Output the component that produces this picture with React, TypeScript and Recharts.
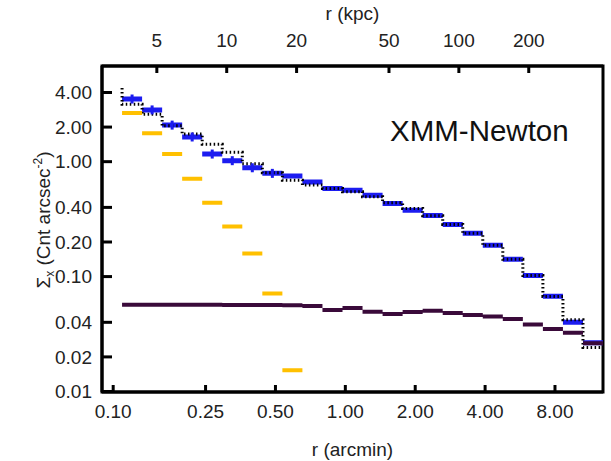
import React from 'react';
import { ComposedChart, Line, Scatter, XAxis, YAxis, ReferenceArea } from 'recharts';

// radial bins (arcmin), log spaced
const binEdges = [
  0.1092, 0.1332, 0.1625, 0.1982, 0.2418, 0.295, 0.3599, 0.439, 0.5356, 0.6533,
  0.797, 0.9723, 1.186, 1.447, 1.765, 2.153, 2.627, 3.204, 3.909, 4.768, 5.817,
  7.096, 8.657, 10.56, 12.88,
];

// surface brightness per bin
const xmmProfile = [
  3.51, 2.82, 2.08, 1.64, 1.165, 1.02, 0.885, 0.791, 0.749, 0.664, 0.585, 0.565,
  0.511, 0.433, 0.378, 0.34, 0.284, 0.2385, 0.1875, 0.1415, 0.102, 0.0673, 0.04, 0.0265,
];
const modelStart = 4.38;
const totalModel = [
  3.16, 2.58, 2.05, 1.74, 1.415, 1.205, 0.96, 0.8, 0.69, 0.625, 0.585, 0.547,
  0.494, 0.44, 0.392, 0.338, 0.284, 0.238, 0.1875, 0.1415, 0.102, 0.067, 0.0422, 0.0242,
];
const coreModel = [2.65, 1.765, 1.165, 0.709, 0.44, 0.273, 0.1587, 0.0711, 0.01534];
const bkgModel = [
  0.057, 0.057, 0.0568, 0.0568, 0.0568, 0.0566, 0.0566, 0.0565, 0.0564, 0.0554, 0.0511, 0.0532,
  0.0495, 0.0472, 0.0491, 0.0505, 0.0482, 0.0463, 0.0449, 0.0427, 0.0382, 0.0349, 0.0325, 0.0263,
];
const markedBins = 8;

const xTicks = [0.1, 0.25, 0.5, 1, 2, 4, 8];
const kpcTicks = [5, 10, 20, 50, 100, 200];
const yTicks = [0.01, 0.02, 0.04, 0.1, 0.2, 0.4, 1, 2, 4];

const xDomain: [number, number] = [0.0895, 12.88];
const kpcPerArcmin = 32.43;
const kpcDomain: [number, number] = [xDomain[0] * kpcPerArcmin, xDomain[1] * kpcPerArcmin];
const yDomain: [number, number] = [0.0099, 6.8];

const FONT = '"Liberation Sans", Arial, Helvetica, sans-serif';

// horizontal segment per bin, broken by nulls
const toSegments = (vals: number[]) =>
  vals.flatMap((v, i) => [
    { x: binEdges[i], y: v },
    { x: binEdges[i + 1], y: v },
    { x: binEdges[i + 1], y: null },
  ]);

const modelSteps = [
  { x: binEdges[0], y: modelStart },
  ...totalModel.map((v, i) => ({ x: binEdges[i], y: v })),
  { x: binEdges[totalModel.length], y: totalModel[totalModel.length - 1] },
];

const xmmCenters = xmmProfile.slice(0, markedBins).map((v, i) => ({
  x: Math.sqrt(binEdges[i] * binEdges[i + 1]),
  y: v,
}));

// invisible helper so the kpc axis gets drawn
const kpcAnchor = kpcDomain.map((x) => ({ x, y: 1 }));

const tickStyle = { fill: '#222', fontSize: 19, fontFamily: FONT };
const axisLine = { stroke: '#000', strokeWidth: 3 };

export default function App() {
  return (
    <div style={{ position: 'absolute', left: 0, top: 0, width: 611, height: 461, background: '#fff' }}>
      <ComposedChart width={611} height={461} margin={{ top: 0, right: 8, bottom: 0, left: 0 }}>
        <XAxis
          dataKey="x"
          type="number"
          scale="log"
          domain={xDomain}
          allowDataOverflow
          ticks={xTicks}
          interval={0}
          tickFormatter={(v: number) => v.toFixed(2)}
          tick={tickStyle}
          tickSize={-7}
          tickMargin={20}
          axisLine={axisLine}
          tickLine={axisLine}
          height={69}
          label={{ value: 'r (arcmin)', position: 'insideBottom', offset: 5, fill: '#222', fontSize: 19, fontFamily: FONT }}
        />
        <XAxis
          xAxisId="top"
          dataKey="x"
          orientation="top"
          type="number"
          scale="log"
          domain={kpcDomain}
          allowDataOverflow
          ticks={kpcTicks}
          interval={0}
          tick={tickStyle}
          tickSize={-7}
          tickMargin={26}
          axisLine={axisLine}
          tickLine={axisLine}
          height={66}
          label={{ value: 'r (kpc)', position: 'insideTop', offset: 7, fill: '#222', fontSize: 19, fontFamily: FONT }}
        />
        <YAxis
          type="number"
          scale="log"
          domain={yDomain}
          allowDataOverflow
          ticks={yTicks}
          interval={0}
          tickFormatter={(v: number) => v.toFixed(2)}
          tick={tickStyle}
          tickSize={-10}
          tickMargin={20}
          axisLine={axisLine}
          tickLine={axisLine}
          width={102}
        />
        <Line
          xAxisId="top"
          data={kpcAnchor}
          dataKey="y"
          stroke="none"
          dot={false}
          activeDot={false}
          legendType="none"
          isAnimationActive={false}
        />
        <Line
          data={toSegments(xmmProfile)}
          dataKey="y"
          stroke="#1c1cf0"
          strokeWidth={5}
          dot={false}
          activeDot={false}
          connectNulls={false}
          isAnimationActive={false}
        />
        <Scatter
          data={xmmCenters}
          dataKey="y"
          fill="#1c1cf0"
          isAnimationActive={false}
          shape={(p: any) => <rect x={p.cx - 1.5} y={p.cy - 4.5} width={3} height={9} fill="#1c1cf0" />}
        />
        <Line
          data={modelSteps}
          dataKey="y"
          type="stepAfter"
          stroke="#000"
          strokeWidth={3}
          strokeDasharray="1.5 2.5"
          dot={false}
          activeDot={false}
          isAnimationActive={false}
        />
        <Line
          data={toSegments(coreModel)}
          dataKey="y"
          stroke="#ffc000"
          strokeWidth={4}
          dot={false}
          activeDot={false}
          connectNulls={false}
          isAnimationActive={false}
        />
        <Line
          data={toSegments(bkgModel)}
          dataKey="y"
          stroke="#3a0a3a"
          strokeWidth={4}
          dot={false}
          activeDot={false}
          connectNulls={false}
          isAnimationActive={false}
        />
        <ReferenceArea
          x1={xDomain[0]}
          x2={xDomain[1]}
          y1={yDomain[0]}
          y2={yDomain[1]}
          fill="none"
          stroke="#000"
          strokeWidth={3}
        />
      </ComposedChart>
      <svg width={611} height={461} style={{ position: 'absolute', left: 0, top: 0, pointerEvents: 'none' }}>
        <text
          transform="translate(50,220) rotate(-90)"
          textAnchor="middle"
          fontSize={19}
          fontFamily={FONT}
          fill="#222"
        >
          Σ<tspan fontSize={12} dy={4}>x</tspan>
          <tspan dy={-4}> (Cnt arcsec</tspan>
          <tspan fontSize={12} dy={-8}>-2</tspan>
          <tspan dy={8}>)</tspan>
        </text>
        <text x={390} y={141} fontSize={29.5} fontFamily={FONT} fill="#111">
          XMM-Newton
        </text>
      </svg>
    </div>
  );
}
